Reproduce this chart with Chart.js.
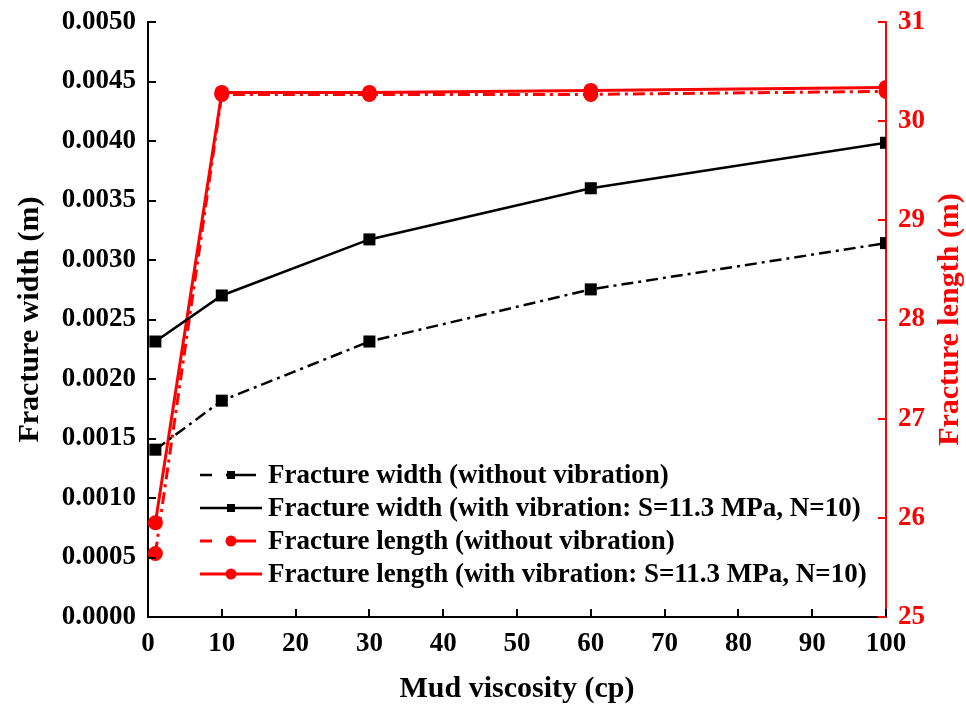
<!DOCTYPE html>
<html><head><meta charset="utf-8">
<script src="https://cdn.jsdelivr.net/npm/chart.js@4.4.1/dist/chart.umd.min.js"></script>
<style>html,body{margin:0;padding:0;background:#fff}</style>
</head><body>
<canvas id="c" width="966" height="707"></canvas>
<script>
// ---- data ----
const viscosity = [1, 10, 30, 60, 100];
const widthWithout = [0.001406, 0.001818, 0.002315, 0.002753, 0.003142];
const widthWith = [0.002315, 0.002702, 0.003173, 0.003603, 0.003985];
const lengthWithout = [25.64, 30.27, 30.27, 30.27, 30.30];
const lengthWith = [25.95, 30.29, 30.29, 30.31, 30.34];
const seriesNames = [
  'Fracture width (without vibration)',
  'Fracture width (with vibration: S=11.3 MPa, N=10)',
  'Fracture length (without vibration)',
  'Fracture length (with vibration: S=11.3 MPa, N=10)'
];
const xTitle = 'Mud viscosity (cp)';
const yLeftTitle = 'Fracture width (m)';
const yRightTitle = 'Fracture length (m)';

const FONT = 'Liberation Serif, Times New Roman, serif';
const RED = '#ff0000';
const DASHDOT = [12, 5, 3, 5];

function pts(xs, ys) { return xs.map((x, i) => ({x: x, y: ys[i]})); }

const datasets = [
  {label: seriesNames[0], data: pts(viscosity, widthWithout), yAxisID: 'y',
   borderColor: '#000', backgroundColor: '#000', borderWidth: 2.5, borderDash: DASHDOT,
   pointStyle: 'rect', pointRadius: 8.5, pointBorderWidth: 0, legendDash: true},
  {label: seriesNames[1], data: pts(viscosity, widthWith), yAxisID: 'y',
   borderColor: '#000', backgroundColor: '#000', borderWidth: 2.5,
   pointStyle: 'rect', pointRadius: 8.5, pointBorderWidth: 0},
  {label: seriesNames[2], data: pts(viscosity, lengthWithout), yAxisID: 'y1',
   borderColor: RED, backgroundColor: RED, borderWidth: 3, borderDash: DASHDOT,
   pointStyle: 'circle', pointRadius: 7.5, pointBorderWidth: 0, legendDash: true},
  {label: seriesNames[3], data: pts(viscosity, lengthWith), yAxisID: 'y1',
   borderColor: RED, backgroundColor: RED, borderWidth: 3,
   pointStyle: 'circle', pointRadius: 7.5, pointBorderWidth: 0}
];

const inwardTicks = {
  id: 'inwardTicks',
  afterDatasetsDraw(chart) {
    const ctx = chart.ctx;
    const L = 8;
    ctx.save();
    ctx.lineWidth = 2;
    const xs = chart.scales.x;
    ctx.strokeStyle = '#000';
    xs.ticks.forEach(t => {
      const p = Math.round(xs.getPixelForValue(t.value));
      ctx.beginPath(); ctx.moveTo(p, xs.top); ctx.lineTo(p, xs.top - L); ctx.stroke();
    });
    const yl = chart.scales.y;
    yl.ticks.forEach(t => {
      const p = Math.round(yl.getPixelForValue(t.value));
      ctx.beginPath(); ctx.moveTo(yl.right, p); ctx.lineTo(yl.right + L, p); ctx.stroke();
    });
    const yr = chart.scales.y1;
    ctx.strokeStyle = RED;
    yr.ticks.forEach(t => {
      const p = Math.round(yr.getPixelForValue(t.value));
      ctx.beginPath(); ctx.moveTo(yr.left, p); ctx.lineTo(yr.left - L, p); ctx.stroke();
    });
    ctx.restore();
  }
};

const customLegend = {
  id: 'customLegend',
  afterDraw(chart) {
    const ctx = chart.ctx;
    const x0 = 200, x1 = 262, mx = 231, tx = 268;
    const rows = [475, 508, 541, 574];
    ctx.save();
    chart.data.datasets.forEach((ds, i) => {
      const y = rows[i];
      ctx.strokeStyle = ds.borderColor;
      ctx.lineWidth = ds.borderWidth;
      ctx.setLineDash(ds.legendDash ? [12, 14, 30, 100] : []);
      ctx.beginPath(); ctx.moveTo(x0, y); ctx.lineTo(ds.legendDash ? 256 : x1, y); ctx.stroke();
      ctx.setLineDash([]);
      ctx.fillStyle = ds.backgroundColor;
      if (ds.pointStyle === 'rect') {
        ctx.fillRect(mx - 4, y - 4, 8, 8);
      } else {
        ctx.beginPath(); ctx.arc(mx, y, 5.5, 0, Math.PI * 2); ctx.fill();
      }
      ctx.fillStyle = '#000';
      ctx.font = 'bold 27px ' + FONT;
      ctx.textAlign = 'left';
      ctx.textBaseline = 'middle';
      ctx.fillText(ds.label, tx, y + 1);
    });
    // right axis title, reading bottom-to-top
    const ca = chart.chartArea;
    ctx.translate(950, (ca.top + ca.bottom) / 2);
    ctx.rotate(-Math.PI / 2);
    ctx.fillStyle = RED;
    ctx.font = 'bold 30px ' + FONT;
    ctx.textAlign = 'center';
    ctx.textBaseline = 'middle';
    ctx.fillText(yRightTitle, 0, 0);
    ctx.restore();
  }
};

function noPad(s) { s.paddingTop = 0; s.paddingBottom = 0; }

new Chart(document.getElementById('c'), {
  type: 'line',
  data: {datasets: datasets},
  options: {
    responsive: false,
    animation: false,
    layout: {padding: {top: 22, left: 0, right: 0, bottom: 0}},
    plugins: {legend: {display: false}, tooltip: {enabled: false}},
    scales: {
      x: {
        type: 'linear', min: 0, max: 100,
        ticks: {stepSize: 10, padding: 11, color: '#000', font: {family: FONT, size: 27, weight: 'bold'}},
        grid: {display: false, drawTicks: false},
        border: {display: true, color: '#000', width: 2},
        title: {display: true, text: xTitle, color: '#000', padding: {top: 0, bottom: 0},
                font: {family: FONT, size: 30, weight: 'bold'}},
        afterFit(s) { s.height = 90; s.paddingLeft = 0; s.paddingRight = 0; }
      },
      y: {
        type: 'linear', position: 'left', min: 0, max: 0.005,
        ticks: {stepSize: 0.0005, padding: 12, color: '#000',
                font: {family: FONT, size: 27, weight: 'bold'},
                callback: v => v.toFixed(4)},
        grid: {display: false, drawTicks: false},
        border: {display: true, color: '#000', width: 2},
        title: {display: true, text: yLeftTitle, color: '#000', padding: {top: 12, bottom: 0},
                font: {family: FONT, size: 30, weight: 'bold'}},
        afterFit(s) { s.width = 148; noPad(s); }
      },
      y1: {
        type: 'linear', position: 'right', min: 25, max: 31,
        ticks: {stepSize: 1, padding: 12, color: RED,
                font: {family: FONT, size: 27, weight: 'bold'}},
        grid: {display: false, drawTicks: false},
        border: {display: true, color: RED, width: 2},
        afterFit(s) { s.width = 80; noPad(s); }
      }
    }
  },
  plugins: [inwardTicks, customLegend]
});
</script>
</body></html>
